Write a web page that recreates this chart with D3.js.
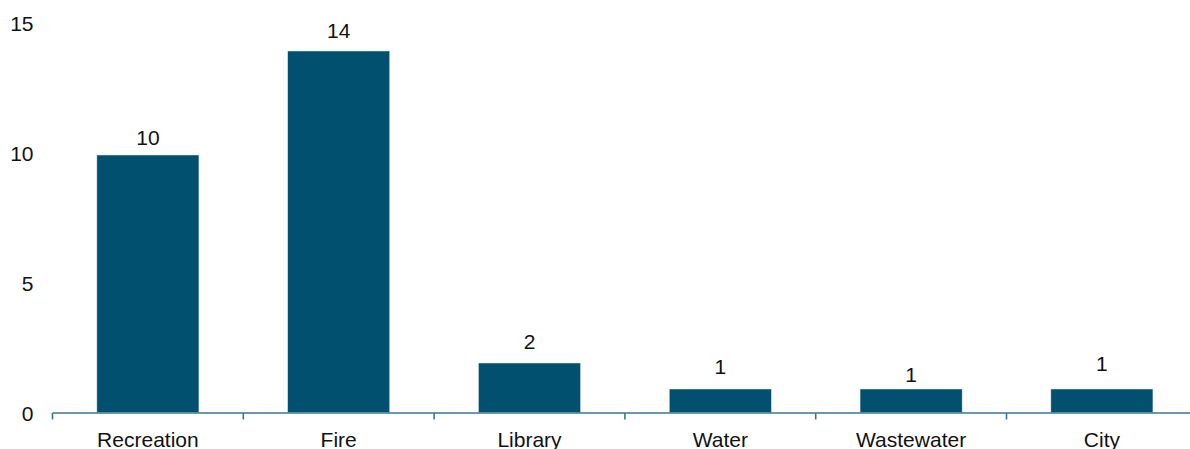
<!DOCTYPE html>
<html>
<head>
<meta charset="utf-8">
<script src="https://cdn.jsdelivr.net/npm/d3@7"></script>
<style>
  html, body { margin: 0; padding: 0; background: #fff; }
  svg { display: block; font-family: "Liberation Sans", Arial, sans-serif; }
</style>
</head>
<body>
<svg id="chart" width="1190" height="449"></svg>
<script>
// Number of facilities by department
const categories = ["Recreation", "Fire", "Library", "Water", "Wastewater", "City"];
const counts = [10, 14, 2, 1, 1, 1];
const yTicks = [0, 5, 10, 15];

const plotLeft = 52.5, step = 190.8;
const axisY = 412.5;

const x = d3.scaleBand()
  .domain(categories)
  .range([plotLeft, plotLeft + step * categories.length])
  .paddingInner(0.465)
  .paddingOuter(0.2325);

const y = d3.scaleLinear()
  .domain([0, 15])
  .range([415, 25]);

const barColor = "#02506f";
const axisColor = "#3a7595";
const textColor = "#111";
const fontSize = 21;

// distance of each value label's baseline above its bar
const labelGap = [10, 13, 14.5, 15.5, 7, 18];

const svg = d3.select("#chart");

// y tick labels (no axis line)
svg.append("g")
  .selectAll("text")
  .data(yTicks)
  .join("text")
  .attr("x", 33.5)
  .attr("y", d => y(d) - 1.5)
  .attr("dy", "0.36em")
  .attr("text-anchor", "end")
  .attr("font-size", fontSize)
  .attr("fill", textColor)
  .text(d => d);

// bars, standing on the axis line
svg.append("g")
  .selectAll("rect")
  .data(categories)
  .join("rect")
  .attr("x", d => x(d))
  .attr("y", (d, i) => y(counts[i]))
  .attr("width", x.bandwidth())
  .attr("height", (d, i) => axisY - y(counts[i]))
  .attr("fill", barColor)
  .attr("stroke", "#dfe9ee")
  .attr("stroke-width", 0.5);

// value labels
svg.append("g")
  .selectAll("text")
  .data(categories)
  .join("text")
  .attr("x", d => x(d) + x.bandwidth() / 2)
  .attr("y", (d, i) => y(counts[i]) - labelGap[i])
  .attr("text-anchor", "middle")
  .attr("font-size", fontSize)
  .attr("fill", textColor)
  .text((d, i) => counts[i]);

// x axis: baseline with ticks at category boundaries
const boundaries = d3.range(categories.length + 1).map(i => plotLeft + i * x.step());
const xAxis = svg.append("g");
xAxis.append("line")
  .attr("x1", plotLeft)
  .attr("x2", boundaries[boundaries.length - 1])
  .attr("y1", axisY + 0.5)
  .attr("y2", axisY + 0.5)
  .attr("stroke", axisColor)
  .attr("stroke-width", 1.6);
xAxis.selectAll("line.tick")
  .data(boundaries)
  .join("line")
  .attr("class", "tick")
  .attr("x1", d => d)
  .attr("x2", d => d)
  .attr("y1", axisY + 0.5)
  .attr("y2", axisY + 7)
  .attr("stroke", axisColor)
  .attr("stroke-width", 1.6);

xAxis.selectAll("text")
  .data(categories)
  .join("text")
  .attr("x", d => x(d) + x.bandwidth() / 2)
  .attr("y", 446.5)
  .attr("text-anchor", "middle")
  .attr("font-size", fontSize)
  .attr("fill", textColor)
  .text(d => d);
</script>
</body>
</html>
